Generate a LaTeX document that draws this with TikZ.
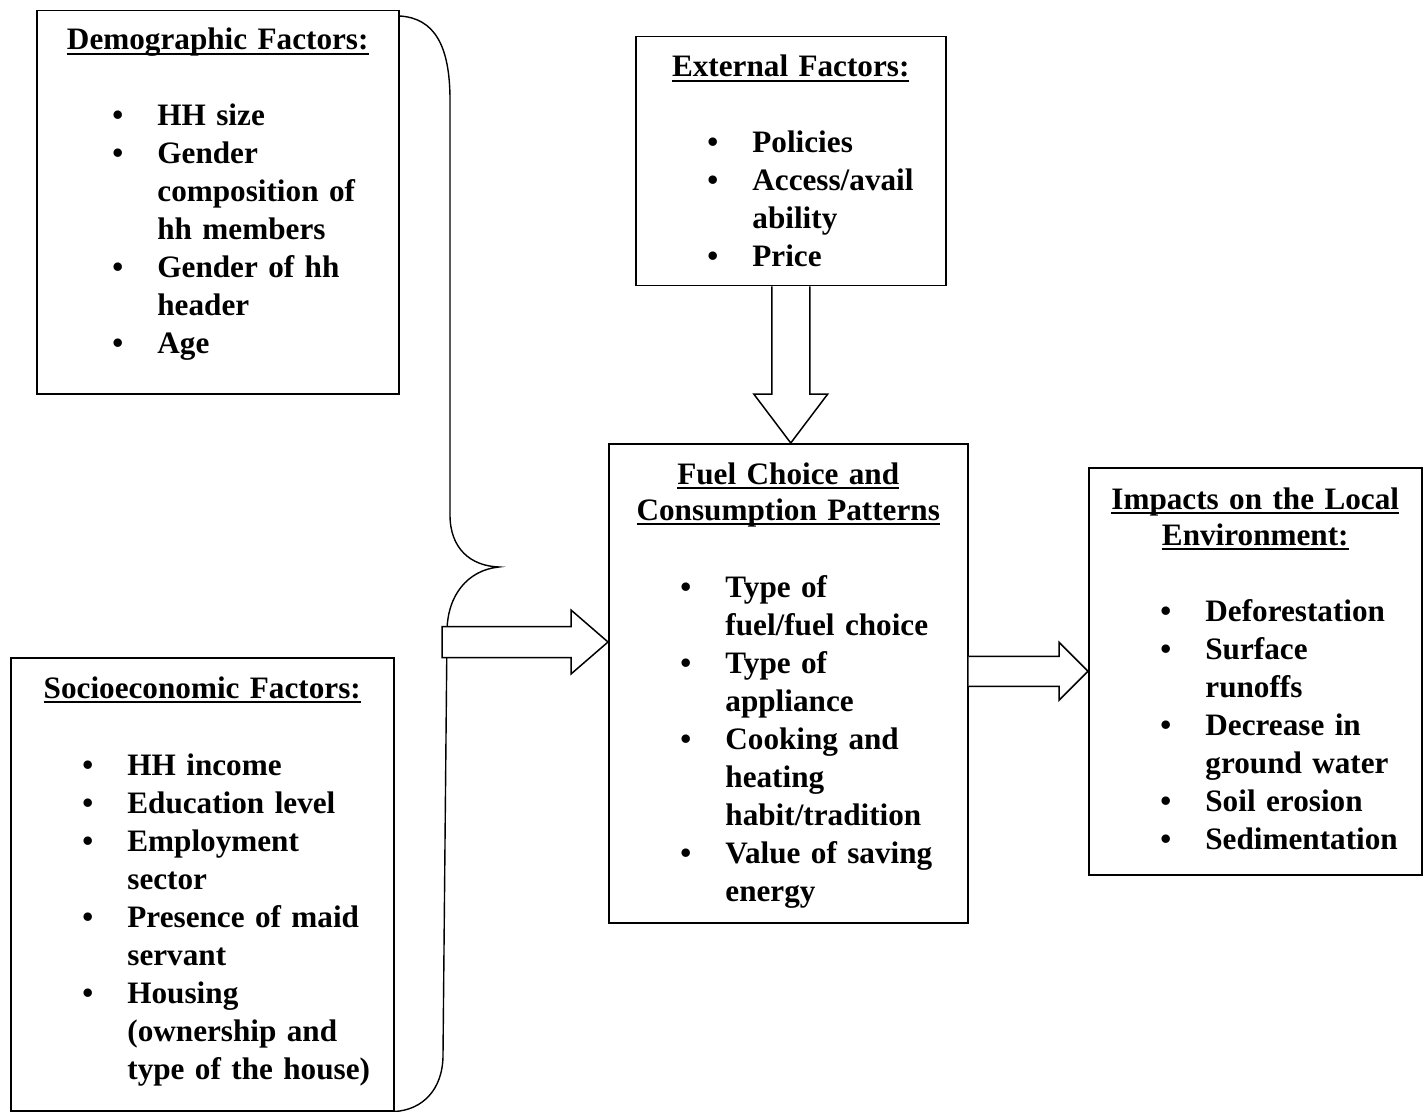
\documentclass[tikz,border=0pt]{standalone}
\usepackage{fontspec}
\setmainfont{Liberation Serif}
\usetikzlibrary{calc}
\newcommand{\headul}[1]{\leavevmode\setbox0\hbox{#1}\rlap{\rule[-2.4pt]{\wd0}{0.75pt}}\box0}
\newcommand{\bul}{\leavevmode\llap{\textbullet\hspace{17pt}}}
\tikzset{
  box/.style={draw,line width=0.75pt,anchor=north west,inner sep=0pt},
  head/.style={anchor=base,align=center,text width=170pt,inner sep=0pt,font=\fontsize{15.6}{18}\selectfont\bfseries},
  list/.style={anchor=base west,align=left,text width=170pt,inner sep=0pt,font=\fontsize{15.6}{19}\selectfont\bfseries},
  blockarrow/.style={draw,line width=0.75pt,fill=white,line join=miter},
  brace/.style={draw,line width=0.7pt}
}
\begin{document}
\begin{tikzpicture}[x=0.5pt,y=-0.5pt]
\path[use as bounding box,fill=white](0,0)rectangle(1428,1112);
\node[box,minimum width=181pt,minimum height=191.5pt](demo)at(36,10){};
\node[box,minimum width=155pt,minimum height=124.5pt](ext)at(635,36){};
\node[box,minimum width=179.5pt,minimum height=239.5pt](fuel)at(608,443){};
\node[box,minimum width=166.5pt,minimum height=203.5pt](imp)at(1088,467){};
\node[box,minimum width=191.5pt,minimum height=226.5pt](socio)at(10,657){};
\node[head](demohead)at($(demo.north)+(0,40)$){\headul{Demographic Factors:}};
\node[list](demolist)at($(demo.north west)+(121,116)$){\bul HH size\\
\bul Gender\\composition of\\hh members\\
\bul Gender of hh\\header\\
\bul Age};
\node[head](exthead)at($(ext.north)+(0,41)$){\headul{External Factors:}};
\node[list](extlist)at($(ext.north west)+(117,117)$){\bul Policies\\
\bul Access/avail\\ability\\
\bul Price};
\node[head](fuelhead)at($(fuel.north)+(0,41)$){\headul{Fuel Choice and}\\\headul{Consumption Patterns}};
\node[list](fuellist)at($(fuel.north west)+(117,154)$){\bul Type of\\fuel/fuel choice\\
\bul Type of\\appliance\\
\bul Cooking and\\heating\\habit/tradition\\
\bul Value of saving\\energy};
\node[head](imphead)at($(imp.north)+(0,42)$){\headul{Impacts on the Local}\\\headul{Environment:}};
\node[list](implist)at($(imp.north west)+(117,154)$){\bul Deforestation\\
\bul Surface\\runoffs\\
\bul Decrease in\\ground water\\
\bul Soil erosion\\
\bul Sedimentation};
\node[head](sociohead)at($(socio.north)+(0,41)$){\headul{Socioeconomic Factors:}};
\node[list](sociolist)at($(socio.north west)+(117,118)$){\bul HH income\\
\bul Education level\\
\bul Employment\\sector\\
\bul Presence of maid\\servant\\
\bul Housing\\(ownership and\\type of the house)};
\coordinate(brtip)at(499,567);
\coordinate(ltail)at(442,642);
\draw[brace]($(demo.north east)+(0,6)$)..controls(434,18)and(450,45)..(450,100)--(450,515)..controls(450,548)and(470,566)..(brtip)..controls(468,570)and(447,595)..(447,632)--(443,1055)..controls(443,1090)and(422,1110)..(socio.south east);
\coordinate(ltip)at(ltail-|fuel.west);
\draw[blockarrow](ltail)++(0,-15.5)--($(ltip)+(-37,-15.5)$)--($(ltip)+(-37,-32)$)--(ltip)--($(ltip)+(-37,32)$)--($(ltip)+(-37,15.5)$)--($(ltail)+(0,15.5)$)--cycle;
\coordinate(dtip)at(ext.south|-fuel.north);
\draw[blockarrow]($(ext.south)+(-19,0)$)--($(dtip)+(-19,-49)$)--($(dtip)+(-37,-49)$)--(dtip)--($(dtip)+(37,-49)$)--($(dtip)+(19,-49)$)--($(ext.south)+(19,0)$);
\coordinate(rtail)at(fuel.east|-imp.west);
\draw[blockarrow]($(rtail)+(0,-15)$)--($(imp.west)+(-29,-15)$)--($(imp.west)+(-29,-29)$)--(imp.west)--($(imp.west)+(-29,29)$)--($(imp.west)+(-29,15)$)--($(rtail)+(0,15)$);
\end{tikzpicture}
\end{document}
